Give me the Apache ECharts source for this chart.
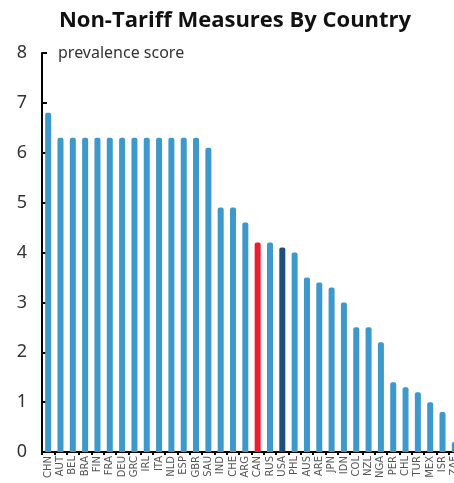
<!DOCTYPE html>
<html>
<head>
<meta charset="utf-8">
<script src="https://cdn.jsdelivr.net/npm/echarts@6/dist/echarts.min.js"></script>
<style>
  html, body { margin: 0; padding: 0; background: #fff; overflow: hidden; }
  /* the canvas is wider than the window so the last bar is cut at the edge */
  #chart { width: 470px; height: 483px; }
</style>
</head>
<body>
<div id="chart"></div>
<script>
// Country codes along the category axis
const countries = ['CHN','AUT','BEL','BRA','FIN','FRA','DEU','GRC','IRL','ITA','NLD','ESP','GBR','SAU',
  'IND','CHE','ARG','CAN','RUS','USA','PHL','AUS','ARE','JPN','IDN','COL','NZL','NGA','PER','CHL',
  'TUR','MEX','ISR','ZAF'];
// Non-tariff measure prevalence score per country
const scores = [6.8,6.3,6.3,6.3,6.3,6.3,6.3,6.3,6.3,6.3,6.3,6.3,6.3,6.1,
  4.9,4.9,4.6,4.2,4.2,4.1,4.0,3.5,3.4,3.3,3.0,2.5,2.5,2.2,1.4,1.3,
  1.2,1.0,0.8,0.2];
// Highlighted countries
const highlight = { CAN: '#ee1c2e', USA: '#1f4e7e' };
const baseColor = '#3d98cc';
const yTicks = [0, 1, 2, 3, 4, 5, 6, 7, 8];

const chart = echarts.init(document.getElementById('chart'), null, { renderer: 'canvas' });
chart.setOption({
  animation: false,
  title: {
    text: 'Non-Tariff Measures By Country',
    left: 'center',
    top: 5,
    textStyle: { fontFamily: 'Open Sans', fontWeight: 'bold', fontSize: 22, color: '#111' }
  },
  graphic: [{
    type: 'text',
    left: 58,
    top: 45,
    style: { text: 'prevalence score', font: '16px "Noto Sans"', fill: '#333' }
  }],
  grid: { left: 42, right: 9, top: 53, bottom: 31, containLabel: false },
  xAxis: {
    type: 'category',
    data: countries,
    axisLine: { lineStyle: { color: '#000', width: 2 } },
    axisTick: { show: true, length: 3, lineStyle: { color: '#000', width: 2 } },
    axisLabel: {
      rotate: 90, interval: 0, fontSize: 10, color: '#555', margin: 4,
      fontFamily: 'DejaVu Sans'
    }
  },
  yAxis: {
    type: 'value',
    min: yTicks[0],
    max: yTicks[yTicks.length - 1],
    interval: 1,
    splitLine: { show: false },
    axisLine: { show: true, lineStyle: { color: '#000', width: 2 } },
    axisTick: { show: true, inside: true, length: 5, lineStyle: { color: '#000', width: 2 } },
    axisLabel: { fontSize: 18, color: '#333', margin: 20, fontFamily: 'Noto Sans', align: 'center' }
  },
  series: [{
    type: 'bar',
    barWidth: 6,
    data: scores.map((v, i) => ({
      value: v,
      itemStyle: { color: highlight[countries[i]] || baseColor, borderRadius: [2, 2, 0, 0] }
    }))
  }]
});
</script>
</body>
</html>
